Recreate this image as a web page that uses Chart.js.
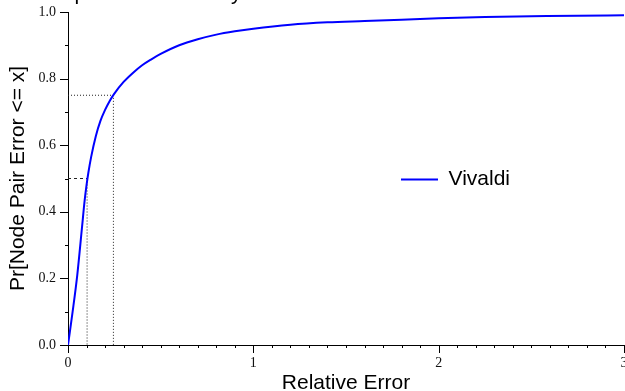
<!DOCTYPE html>
<html>
<head>
<meta charset="utf-8">
<script src="https://cdn.jsdelivr.net/npm/chart.js@4"></script>
<style>
html, body { margin: 0; padding: 0; background: #fff; }
#wrap { width: 625px; height: 391px; }
</style>
</head>
<body>
<div id="wrap"><canvas id="cdfChart" width="625" height="391"></canvas></div>
<script>
// CDF of relative error
const errX = [0, 0.025, 0.05, 0.075, 0.09, 0.1, 0.11, 0.125, 0.15, 0.175, 0.2, 0.225, 0.25,
              0.3, 0.35, 0.4, 0.45, 0.5, 0.6, 0.7, 0.8, 0.9, 1.0, 1.2, 1.4, 1.6, 1.8, 2.0, 2.25, 2.5, 2.75, 3.0];
const cdfY = [0, 0.10, 0.21, 0.35, 0.435, 0.48, 0.518, 0.565, 0.627, 0.673, 0.706, 0.733, 0.755,
              0.79, 0.817, 0.840, 0.858, 0.874, 0.9, 0.918, 0.932, 0.942, 0.95, 0.962, 0.969, 0.973, 0.977,
              0.981, 0.985, 0.987, 0.989, 0.990];

// median and 75th percentile guides
const guideX = [0.103, 0.245];
const guideY = [0.5, 0.75];

const xTicks = [0, 1, 2, 3];
const yTicks = [0, 0.2, 0.4, 0.6, 0.8, 1.0];
const xMinorStep = 0.1;
const yMinorStep = 0.1;

const seriesName = 'Vivaldi';
const xTitle = 'Relative Error';
const yTitle = 'Pr[Node Pair Error <= x]';
const topText = 'pairwise accuracy';

const sans = '"Liberation Sans", Arial, sans-serif';
const serif = '"Liberation Serif", "Times New Roman", serif';

// small outward tick marks, major and minor
const tickMarks = {
  id: 'tickMarks',
  afterDraw(chart) {
    const ctx = chart.ctx;
    const xs = chart.scales.x, ys = chart.scales.y;
    const area = chart.chartArea;
    ctx.save();
    ctx.strokeStyle = '#000';
    ctx.lineWidth = 1;
    ctx.beginPath();
    const nx = Math.round((xs.max - xs.min) / xMinorStep);
    for (let i = 0; i <= nx; i++) {
      const v = xs.min + i * xMinorStep;
      const px = Math.min(Math.round(xs.getPixelForValue(v)) + 0.5, chart.width - 0.5);
      const len = xTicks.some(t => Math.abs(t - v) < 1e-6) ? 8 : 3;
      ctx.moveTo(px, area.bottom);
      ctx.lineTo(px, area.bottom + len);
    }
    const ny = Math.round((ys.max - ys.min) / yMinorStep);
    for (let i = 0; i <= ny; i++) {
      const v = ys.min + i * yMinorStep;
      const py = Math.round(ys.getPixelForValue(v)) + 0.5;
      const len = yTicks.some(t => Math.abs(t - v) < 1e-6) ? 8 : 3;
      ctx.moveTo(area.left, py);
      ctx.lineTo(area.left - len, py);
    }
    ctx.stroke();

    // title is cut off by the top edge
    ctx.fillStyle = '#000';
    ctx.font = '21px ' + sans;
    ctx.textBaseline = 'alphabetic';
    ctx.fillText(topText, 74.5, 0);
    ctx.restore();
  }
};

// move the legend into the right half of the plot
const legendSpot = {
  id: 'legendSpot',
  afterLayout(chart) {
    chart.legend.left = 391;
    chart.legend.top += 13;
    chart.legend.bottom += 13;
  }
};

const ctx = document.getElementById('cdfChart');

new Chart(ctx, {
  type: 'line',
  data: {
    datasets: [
      {
        label: seriesName,
        data: errX.map((x, i) => ({ x: x, y: cdfY[i] })),
        borderColor: '#0000ff',
        backgroundColor: '#0000ff',
        borderWidth: 2,
        pointRadius: 0,
        cubicInterpolationMode: 'monotone'
      },
      {
        label: 'guide50h',
        data: [{ x: 0, y: guideY[0] }, { x: guideX[0], y: guideY[0] }],
        borderColor: '#222',
        borderWidth: 1,
        borderDash: [3, 3],
        pointRadius: 0
      },
      {
        label: 'guide50v',
        data: [{ x: guideX[0], y: guideY[0] }, { x: guideX[0], y: 0 }],
        borderColor: '#222',
        borderWidth: 1,
        borderDash: [1, 2],
        pointRadius: 0
      },
      {
        label: 'guide75',
        data: [{ x: 0, y: guideY[1] }, { x: guideX[1], y: guideY[1] }, { x: guideX[1], y: 0 }],
        borderColor: '#222',
        borderWidth: 1,
        borderDash: [1, 2],
        pointRadius: 0
      }
    ]
  },
  options: {
    responsive: false,
    animation: false,
    devicePixelRatio: 1,
    layout: { padding: { top: 12, right: 1, left: 0, bottom: 0 } },
    plugins: {
      legend: {
        position: 'chartArea',
        align: 'center',
        labels: {
          boxWidth: 37,
          boxHeight: 0,
          color: '#000',
          font: { family: sans, size: 21 },
          filter: item => item.datasetIndex === 0
        }
      },
      tooltip: { enabled: false }
    },
    scales: {
      x: {
        type: 'linear',
        min: 0,
        max: 3,
        afterBuildTicks: s => { s.ticks = xTicks.map(v => ({ value: v })); },
        afterFit: s => { s.height = 46; s.paddingLeft = 0; s.paddingRight = 0; },
        grid: { display: false, drawTicks: true, tickLength: 6 },
        border: { display: true, color: '#000', width: 1 },
        ticks: {
          padding: 4,
          maxRotation: 0,
          autoSkip: false,
          color: '#111',
          font: { family: serif, size: 14 },
          callback: v => String(v)
        },
        title: {
          display: true,
          text: xTitle,
          color: '#000',
          font: { family: sans, size: 21 },
          padding: { top: 0, bottom: -5 }
        }
      },
      y: {
        type: 'linear',
        min: 0,
        max: 1,
        afterBuildTicks: s => { s.ticks = yTicks.map(v => ({ value: v })); },
        afterFit: s => { s.width = 68; s.paddingTop = 0; s.paddingBottom = 0; },
        grid: { display: false, drawTicks: true, tickLength: 7 },
        border: { display: true, color: '#000', width: 1 },
        ticks: {
          padding: 5,
          autoSkip: false,
          color: '#111',
          font: { family: serif, size: 14 },
          callback: v => Number(v).toFixed(1)
        },
        title: {
          display: true,
          text: yTitle,
          color: '#000',
          font: { family: sans, size: 21 },
          padding: { top: 6, bottom: 0 }
        }
      }
    }
  },
  plugins: [tickMarks, legendSpot]
});
</script>
</body>
</html>
